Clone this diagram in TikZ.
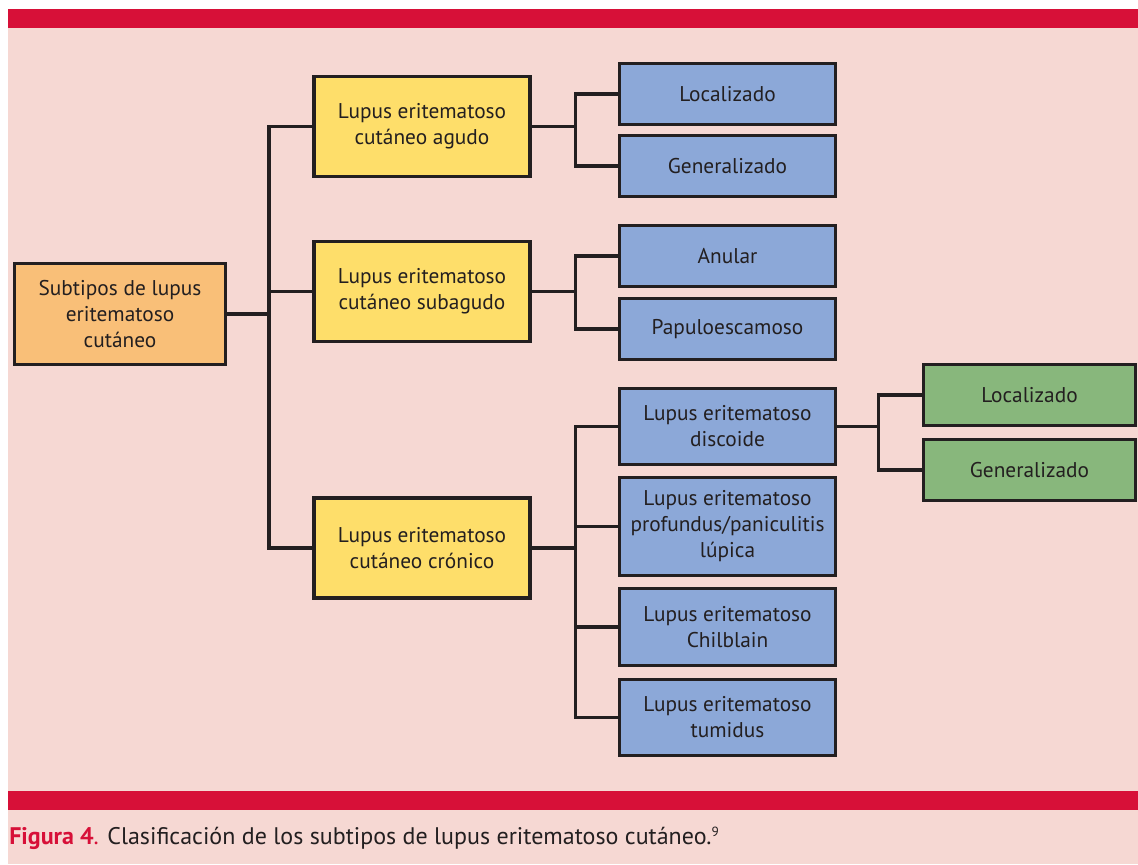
\documentclass[tikz,border=0pt]{standalone}
\usepackage{fontspec}
\setmainfont{PT Sans}
\usetikzlibrary{calc}
\definecolor{bgpink}{HTML}{F6D8D3}
\definecolor{barred}{HTML}{D71038}
\definecolor{rootfill}{HTML}{F9BF78}
\definecolor{typefill}{HTML}{FEDE6A}
\definecolor{subfill}{HTML}{8CA8D8}
\definecolor{leaffill}{HTML}{88B77C}
\definecolor{ink}{HTML}{231F20}
\tikzset{
  box/.style={draw=ink, line width=2.3pt, text=ink, align=center,
    font=\fontsize{16}{19.5}\selectfont, inner sep=2pt},
  rootbox/.style={box, fill=rootfill, minimum width=158.25pt, minimum height=75.75pt},
  typebox/.style={box, fill=typefill, minimum width=162pt, minimum height=75pt},
  subbox/.style={box, fill=subfill, minimum width=162pt, minimum height=45.75pt},
  leafbox/.style={box, fill=leaffill, minimum width=159pt, minimum height=45.75pt},
  link/.style={draw=ink, line width=2.4pt, line join=miter}
}
\begin{document}
\begin{tikzpicture}[x=0.75pt, y=-0.75pt]
\useasboundingbox (0,0) rectangle (1138,864);
% page background and the two red rules
\fill[white] (0,0) rectangle (1138,864);
\fill[bgpink] (8,9) rectangle (1138,864);
\fill[barred] (8,9) rectangle (1138,28);
\fill[barred] (8,791) rectangle (1138,810);

% root
\node[rootbox] (root) at (120,314) {Subtipos de lupus\\eritematoso\\cutáneo};

% main subtypes
\node[typebox] (agudo) at (422,126.5) {Lupus eritematoso\\cutáneo agudo};
\node[typebox] (subagudo) at (422,291.5) {Lupus eritematoso\\cutáneo subagudo};
\node[typebox] (cronico) at (422,548) {Lupus eritematoso\\cutáneo crónico};

% clinical forms
\node[subbox] (aloc) at (727.5,94) {Localizado};
\node[subbox] (agen) at (727.5,166) {Generalizado};
\node[subbox] (anular) at (727.5,256) {Anular};
\node[subbox] (papulo) at (727.5,329) {Papuloescamoso};
\node[subbox, minimum height=57pt] (discoide) at (727.5,426.5) {Lupus eritematoso\\discoide};
\node[subbox, minimum height=73.5pt] (profundus) at (727.5,526.5) {Lupus eritematoso\\profundus/paniculitis\\lúpica};
\node[subbox, minimum height=57.75pt] (chilblain) at (727.5,627) {Lupus eritematoso\\Chilblain};
\node[subbox, minimum height=57pt] (tumidus) at (727.5,717.5) {Lupus eritematoso\\tumidus};

% discoid forms
\node[leafbox] (dloc) at (1029.5,395) {Localizado};
\node[leafbox] (dgen) at (1029.5,470) {Generalizado};

% fork points
\coordinate (f0) at (269,314);
\coordinate (f1) at (575.5,126.5);
\coordinate (f2) at (575.5,291.5);
\coordinate (f3) at (575.5,548);
\coordinate (f4) at (878.5,426.5);

% connectors
\draw[link] (root.east) -- (f0);
\draw[link] (f0) |- (agudo.west);
\draw[link] (f0) |- (subagudo.west);
\draw[link] (f0) |- (cronico.west);

\draw[link] (agudo.east) -- (f1);
\draw[link] (f1) |- (aloc.west);
\draw[link] (f1) |- (agen.west);

\draw[link] (subagudo.east) -- (f2);
\draw[link] (f2) |- (anular.west);
\draw[link] (f2) |- (papulo.west);

\draw[link] (cronico.east) -- (f3);
\draw[link] (f3) |- (discoide.west);
\draw[link] (f3) |- (profundus.west);
\draw[link] (f3) |- (chilblain.west);
\draw[link] (f3) |- (tumidus.west);

\draw[link] (discoide.east) -- (f4);
\draw[link] (f4) |- (dloc.west);
\draw[link] (f4) |- (dgen.west);

% caption
\node[anchor=west, text=ink, font=\fontsize{18}{21}\selectfont, inner sep=0pt] (caption) at (9,838)
  {\textcolor{barred}{\textbf{Figura 4}.} Clasificación de los subtipos de lupus eritematoso cutáneo.\raisebox{0.7ex}{\fontsize{10}{10}\selectfont 9}};
\end{tikzpicture}
\end{document}
